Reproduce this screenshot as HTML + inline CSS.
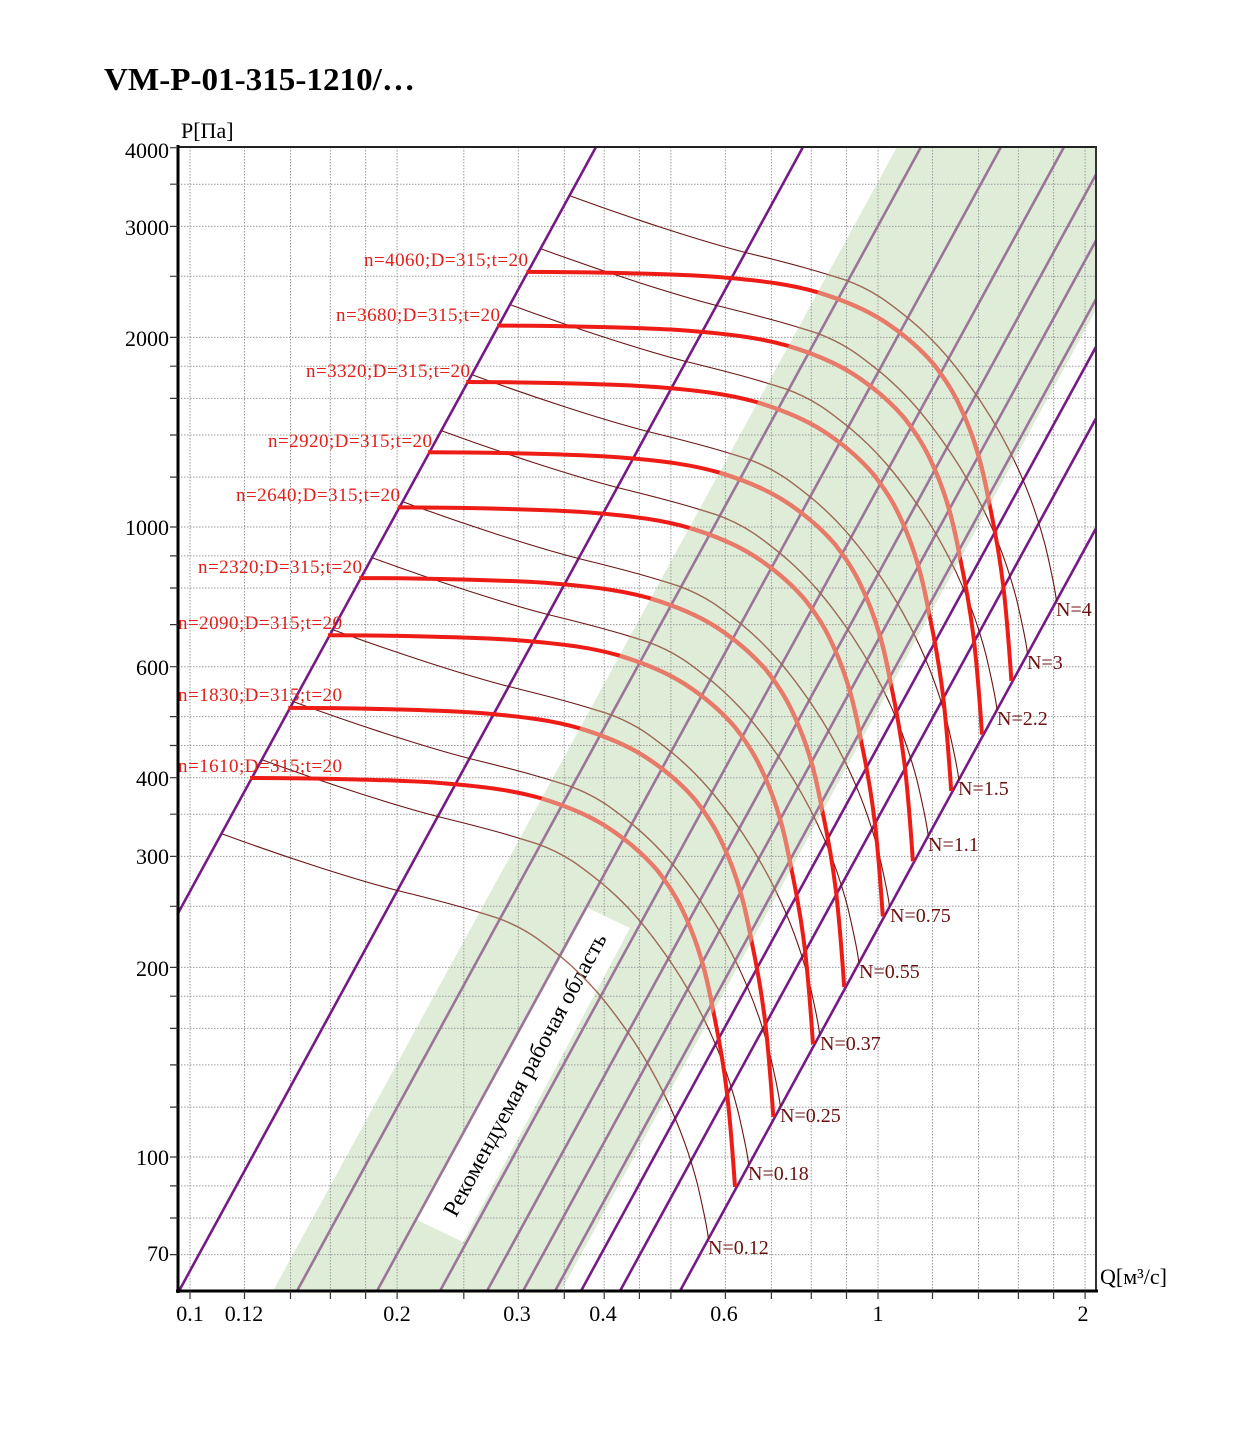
<!DOCTYPE html>
<html><head><meta charset="utf-8"><style>
html,body{margin:0;padding:0;background:#fff;}
svg{display:block;font-family:"Liberation Serif","DejaVu Serif",serif;}
</style></head><body>
<svg width="1241" height="1432" viewBox="0 0 1241 1432" xmlns="http://www.w3.org/2000/svg">
<defs>
<clipPath id="plot"><rect x="178" y="147" width="919" height="1144"/></clipPath>
<clipPath id="green"><polygon points="273,1291 897,147 1097,147 1097,308 561,1291"/></clipPath>
<path id="red" d="M0,0 C60,0 150,2 190,5 C240,9 265,13 290,20 C320,29 340,38 357,49 C380,64 395,78 407,92 C425,115 432,130 440,149 C452,178 458,205 463,232 C470,265 474,290 477,315 C481,350 483,380 485,409" fill="none"/>
<path id="thin" d="M0,0 C60,22 130,45 177,57 C230,70 250,76 275,84 C305,95 320,108 340,124 C365,145 385,168 410,205 C440,250 462,300 475,350 C482,380 485,395 486,405" fill="none"/>
<g id="reds">
<use href="#red" x="250" y="778"/>
<use href="#red" x="288.3" y="707.9"/>
<use href="#red" x="328" y="635.2"/>
<use href="#red" x="359.2" y="578.1"/>
<use href="#red" x="397.8" y="507.4"/>
<use href="#red" x="427.9" y="452.2"/>
<use href="#red" x="466.2" y="382"/>
<use href="#red" x="497" y="325.6"/>
<use href="#red" x="526.4" y="271.9"/>
</g>
<g id="thins">
<use href="#thin" x="222.4" y="834"/>
<use href="#thin" x="262.7" y="760"/>
<use href="#thin" x="294.4" y="702"/>
<use href="#thin" x="333.7" y="630"/>
<use href="#thin" x="372.9" y="558"/>
<use href="#thin" x="403.5" y="502"/>
<use href="#thin" x="442.2" y="431"/>
<use href="#thin" x="472.8" y="375"/>
<use href="#thin" x="511" y="305"/>
<use href="#thin" x="541.5" y="249"/>
<use href="#thin" x="570.4" y="196"/>
</g>
</defs>

<text x="104" y="90" font-size="32" font-weight="bold" fill="#000" textLength="311" lengthAdjust="spacingAndGlyphs">VM-P-01-315-1210/…</text>
<text x="181" y="138" font-size="22" fill="#000">P[Па]</text>
<text x="1100" y="1284" font-size="22" fill="#000">Q[м³/с]</text>

<polygon points="273,1291 897,147 1097,147 1097,308 561,1291" fill="#deecd8"/>

<path d="M190,147V1291M244.5,147V1291M290.5,147V1291M330.4,147V1291M365.6,147V1291M397.1,147V1291M463.8,147V1291M518.3,147V1291M564.3,147V1291M604.2,147V1291M639.4,147V1291M670.9,147V1291M725.4,147V1291M771.4,147V1291M811.3,147V1291M846.5,147V1291M878,147V1291M932.5,147V1291M978.5,147V1291M1018.4,147V1291M1053.6,147V1291M1085.1,147V1291
M178,1254.6H1097M178,1218H1097M178,1185.9H1097M178,1157H1097M178,1107.1H1097M178,1064.9H1097M178,1028.4H1097M178,996.2H1097M178,967.4H1097M178,906.3H1097M178,856.4H1097M178,814.2H1097M178,777.7H1097M178,745.5H1097M178,716.6H1097M178,666.7H1097M178,624.6H1097M178,588H1097M178,555.9H1097M178,527H1097M178,477.1H1097M178,435H1097M178,398.4H1097M178,366.2H1097M178,337.4H1097M178,276.3H1097M178,226.4H1097M178,184.2H1097" stroke="#9a9a9a" stroke-width="1" stroke-dasharray="1.5,1.5" fill="none"/>

<polygon points="588,908 630,928 463,1242 417,1220" fill="#fff"/>

<g clip-path="url(#plot)" stroke-width="2.6" fill="none">
<g stroke="#9c7499">
<line x1="297" y1="1291" x2="921" y2="147"/>
<line x1="377" y1="1291" x2="1001" y2="147"/>
<line x1="440" y1="1291" x2="1064" y2="147"/>
<line x1="487" y1="1291" x2="1111" y2="147"/>
<line x1="523" y1="1291" x2="1147" y2="147"/>
<line x1="555" y1="1291" x2="1179" y2="147"/>
</g>
<g stroke="#761b86">
<line x1="-28" y1="1291" x2="596" y2="147"/>
<line x1="179" y1="1291" x2="803" y2="147"/>
<line x1="581" y1="1291" x2="1205" y2="147"/>
<line x1="620" y1="1291" x2="1244" y2="147"/>
<line x1="680" y1="1291" x2="1304" y2="147"/>
</g>
</g>

<text transform="translate(524.5,1074.5) rotate(-61.6)" text-anchor="middle" y="8" font-size="23" fill="#000" textLength="318" lengthAdjust="spacingAndGlyphs">Рекомендуемая рабочая область</text>

<g stroke="#6a1414" stroke-width="1.1" fill="none"><use href="#thins"/></g>
<g clip-path="url(#green)"><g stroke="#a06a55" stroke-width="1.3" fill="none"><use href="#thins"/></g></g>

<g stroke="#ee1c16" stroke-width="4" fill="none"><use href="#reds"/></g>
<g clip-path="url(#green)"><g stroke="#e77a68" stroke-width="4.2" fill="none"><use href="#reds"/></g></g>

<g font-size="19" fill="#e0201c" text-anchor="end" lengthAdjust="spacingAndGlyphs">
<text x="342" y="772" textLength="164">n=1610;D=315;t=20</text>
<text x="342" y="701" textLength="164">n=1830;D=315;t=20</text>
<text x="342" y="629" textLength="164">n=2090;D=315;t=20</text>
<text x="362" y="573" textLength="164">n=2320;D=315;t=20</text>
<text x="400" y="501" textLength="164">n=2640;D=315;t=20</text>
<text x="432" y="447" textLength="164">n=2920;D=315;t=20</text>
<text x="470" y="377" textLength="164">n=3320;D=315;t=20</text>
<text x="500" y="321" textLength="164">n=3680;D=315;t=20</text>
<text x="528" y="266" textLength="164">n=4060;D=315;t=20</text>
</g>

<g font-size="20" fill="#6a1010">
<text x="708" y="1254">N=0.12</text>
<text x="748" y="1180">N=0.18</text>
<text x="780" y="1122">N=0.25</text>
<text x="820" y="1050">N=0.37</text>
<text x="859" y="978">N=0.55</text>
<text x="890" y="922">N=0.75</text>
<text x="928" y="851">N=1.1</text>
<text x="958" y="795">N=1.5</text>
<text x="997" y="725">N=2.2</text>
<text x="1027" y="669">N=3</text>
<text x="1056" y="616">N=4</text>
</g>

<line x1="178" y1="147" x2="1097" y2="147" stroke="#222" stroke-width="2"/>
<line x1="1096" y1="147" x2="1096" y2="1291" stroke="#333" stroke-width="2"/>
<line x1="178" y1="145" x2="178" y2="1293" stroke="#000" stroke-width="3"/>
<line x1="176" y1="1291" x2="1098" y2="1291" stroke="#000" stroke-width="3"/>

<path d="M190,1291v8M244.5,1291v8M290.5,1291v8M330.4,1291v8M365.6,1291v8M397.1,1291v8M463.8,1291v8M518.3,1291v8M564.3,1291v8M604.2,1291v8M639.4,1291v8M670.9,1291v8M725.4,1291v8M771.4,1291v8M811.3,1291v8M846.5,1291v8M878,1291v8M932.5,1291v8M978.5,1291v8M1018.4,1291v8M1053.6,1291v8M1085.1,1291v8
M170,1254.6h8M170,1218h8M170,1185.9h8M170,1157h8M170,1107.1h8M170,1064.9h8M170,1028.4h8M170,996.2h8M170,967.4h8M170,906.3h8M170,856.4h8M170,814.2h8M170,777.7h8M170,745.5h8M170,716.6h8M170,666.7h8M170,624.6h8M170,588h8M170,555.9h8M170,527h8M170,477.1h8M170,435h8M170,398.4h8M170,366.2h8M170,337.4h8M170,276.3h8M170,226.4h8M170,184.2h8M170,147.7h8" stroke="#333" stroke-width="1.2" fill="none"/>

<g font-size="22" fill="#000" text-anchor="end">
<text x="169" y="158">4000</text>
<text x="169" y="235">3000</text>
<text x="169" y="346">2000</text>
<text x="169" y="535">1000</text>
<text x="169" y="675">600</text>
<text x="169" y="786">400</text>
<text x="169" y="864">300</text>
<text x="169" y="976">200</text>
<text x="169" y="1165">100</text>
<text x="169" y="1261">70</text>
</g>
<g font-size="22" fill="#000" text-anchor="middle">
<text x="190" y="1321">0.1</text>
<text x="244" y="1321">0.12</text>
<text x="397" y="1321">0.2</text>
<text x="517" y="1321">0.3</text>
<text x="603" y="1321">0.4</text>
<text x="724" y="1321">0.6</text>
<text x="878" y="1321">1</text>
<text x="1083" y="1321">2</text>
</g>
</svg>
</body></html>
